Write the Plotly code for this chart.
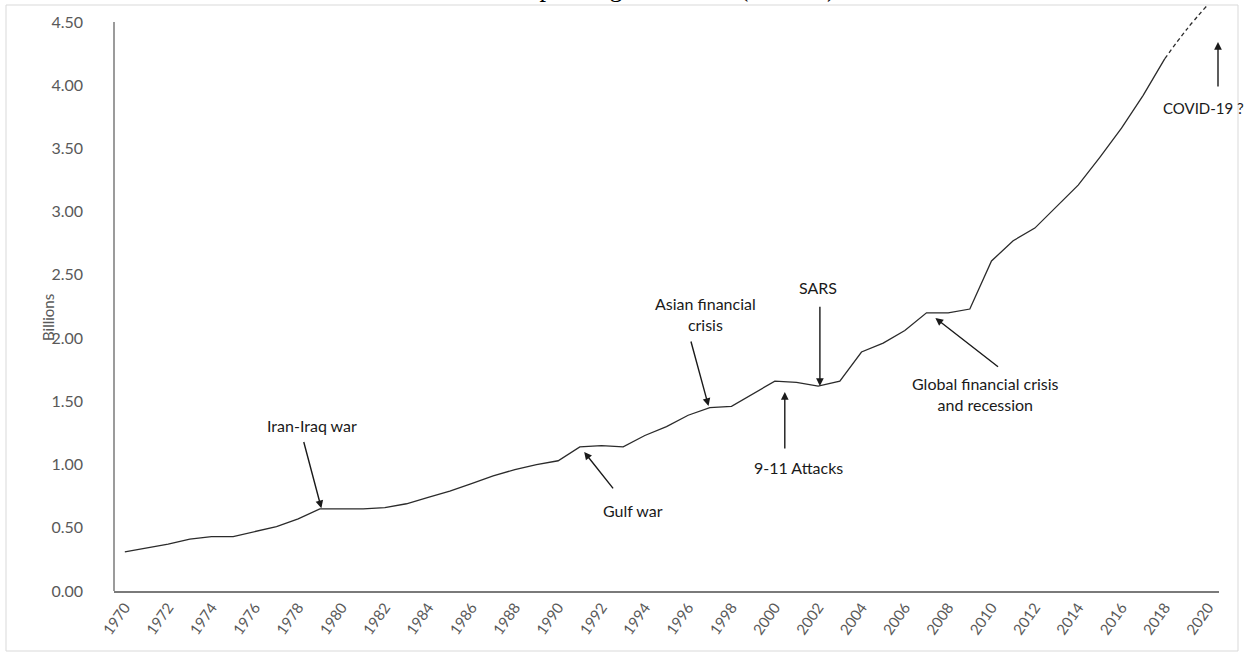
import plotly.graph_objects as go

# ---------------- data ----------------
years = list(range(1970, 2019))
passengers = [0.31, 0.34, 0.37, 0.41, 0.43, 0.43, 0.47, 0.51, 0.57, 0.65,
              0.65, 0.65, 0.66, 0.69, 0.74, 0.79, 0.85, 0.91, 0.96, 1.00,
              1.03, 1.14, 1.15, 1.14, 1.23, 1.30, 1.39, 1.45, 1.46, 1.56,
              1.66, 1.65, 1.62, 1.66, 1.89, 1.96, 2.06, 2.20, 2.20, 2.23,
              2.61, 2.77, 2.87, 3.04, 3.21, 3.43, 3.66, 3.92, 4.21]
proj_years = [2018, 2019, 2020]
proj_values = [4.21, 4.44, 4.64]

tick_years = list(range(1970, 2021, 2))
tick_labels = [str(y) for y in tick_years]
y_ticks = [0, 0.5, 1.0, 1.5, 2.0, 2.5, 3.0, 3.5, 4.0, 4.5]
y_tick_labels = ["%.2f" % v for v in y_ticks]

# annotations: text, text position (year, value), arrow tail, arrow head
events = [
    ("Iran-Iraq war", (1978.66, 1.31), (1978.24, 1.19), (1979.07, 0.655)),
    ("Gulf war", (1993.47, 0.64), (1992.59, 0.80), (1991.2, 1.10)),
    ("Asian financial<br>crisis", (1996.8, 2.19), (1996.11, 1.985), (1996.94, 1.463)),
    ("SARS", (2001.99, 2.40), (2002.08, 2.26), (2002.08, 1.621)),
    ("9-11 Attacks", (2001.11, 0.98), (2000.46, 1.115), (2000.46, 1.574)),
    ("Global financial crisis<br>and recession", (2009.72, 1.56), (2010.37, 1.764), (2007.41, 2.159)),
]
covid_text = "COVID-19 ?"
covid_text_pos = (2019.77, 3.82)
covid_head_value = 4.342

title_text = "World airline passengers carried (billions)"

# ---------------- figure ----------------
W, H = 1244, 654
ML, MR, MT, MB = 114, 25, 2, 63
PW, PH = W - ML - MR, H - MT - MB
y_max = 4.5 + 20 / 126.44

def px_x(px):
    return (px - ML) / PW

def px_y(py):
    return (MT + PH - py) / PH

fig = go.Figure()
fig.add_trace(go.Scatter(x=years, y=passengers, mode="lines",
                         line=dict(color="#2b2b2b", width=1.3),
                         showlegend=False, hoverinfo="x+y"))
fig.add_trace(go.Scatter(x=proj_years, y=proj_values, mode="lines",
                         line=dict(color="#2b2b2b", width=1.3, dash="4px,3px",
                                   shape="spline"),
                         showlegend=False, hoverinfo="x+y"))

ann_font = dict(family="Lato", size=16, color="#1a1a1a")
annotations = []
for text, (tx, ty), (ax, ay), (hx, hy) in events:
    annotations.append(dict(x=tx, y=ty, xref="x", yref="y", text=text,
                            showarrow=False, align="center", font=ann_font,
                            xanchor="center", yanchor="middle"))
    annotations.append(dict(x=hx, y=hy, xref="x", yref="y", text="",
                            showarrow=True, ax=ax, ay=ay, axref="x", ayref="y",
                            arrowhead=2, arrowsize=1.1, arrowwidth=1.4,
                            arrowcolor="#1a1a1a", standoff=0, startstandoff=0))

# COVID annotation (arrow sits to the right of the last category)
annotations.append(dict(x=covid_text_pos[0], y=covid_text_pos[1], xref="x", yref="y",
                        text=covid_text, showarrow=False,
                        xanchor="center", yanchor="middle",
                        font=dict(family="Lato", size=15, color="#1a1a1a")))
annotations.append(dict(x=px_x(1218), y=covid_head_value, xref="paper", yref="y",
                        text="", showarrow=True, ax=0, ay=46,
                        axref="pixel", ayref="pixel",
                        arrowhead=2, arrowsize=1.1, arrowwidth=1.4,
                        arrowcolor="#1a1a1a", standoff=0, startstandoff=0))

# y-axis title
annotations.append(dict(x=px_x(48), y=px_y(318), xref="paper", yref="paper",
                        xanchor="center", yanchor="middle",
                        text="Billions", textangle=-90, showarrow=False,
                        font=dict(family="Lato", size=15, color="#595959")))
# title (cut off at the top of the picture)
annotations.append(dict(x=px_x(615), y=px_y(-13), xref="paper", yref="paper",
                        text=title_text, showarrow=False,
                        xanchor="center", yanchor="middle",
                        font=dict(family="Liberation Serif", size=26.3, color="#000000")))

shapes = [
    # y-axis line from 0 to 4.5
    dict(type="line", xref="paper", yref="y", x0=0, x1=0, y0=0, y1=4.5,
         line=dict(color="#7a7a7a", width=1.5)),
    # chart area border
    dict(type="rect", xref="paper", yref="paper",
         x0=px_x(6), x1=px_x(1238), y0=px_y(651), y1=px_y(5),
         line=dict(color="#d9d9d9", width=1), layer="below"),
]

fig.update_layout(
    width=W, height=H,
    margin=dict(l=ML, r=MR, t=MT, b=MB, autoexpand=False),
    paper_bgcolor="white", plot_bgcolor="white",
    annotations=annotations, shapes=shapes,
    xaxis=dict(range=[1969.5, 2020.5], tickvals=tick_years, ticktext=tick_labels,
               tickangle=-55, showgrid=False, zeroline=False, automargin=False,
               showline=True, linecolor="#7a7a7a", linewidth=1.5,
               ticks="", tickfont=dict(family="Lato", size=15, color="#595959")),
    yaxis=dict(range=[0, y_max], tickvals=y_ticks, ticktext=y_tick_labels,
               showgrid=False, zeroline=False, showline=False, ticks="",
               automargin=False, ticklabelstandoff=30,
               tickfont=dict(family="Lato", size=16, color="#595959")),
)

fig.write_html("out.html",
               config={"displayModeBar": False},
               post_script="document.body.style.margin='0px';")
